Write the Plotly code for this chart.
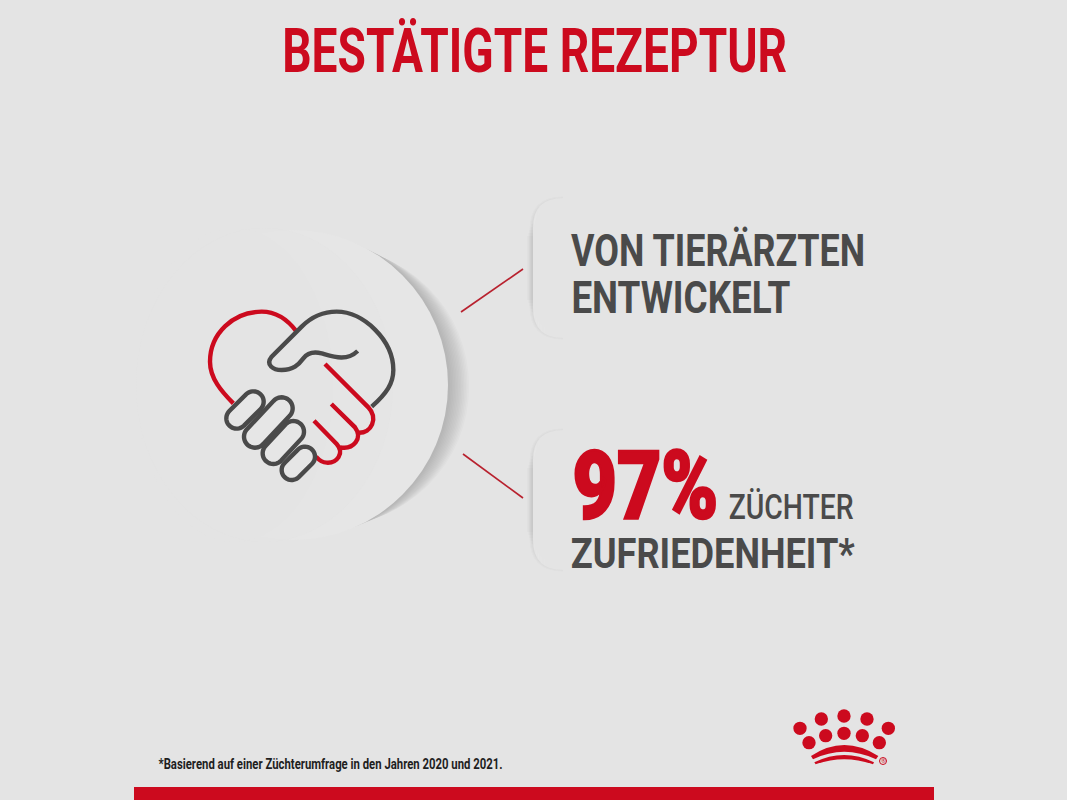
import re
import json
import numpy as np
import plotly.graph_objects as go

TITLE = ["BESTÄTIGTE REZEPTUR"]
CARD_ONE = ["VON TIERÄRZTEN", "ENTWICKELT"]
PERCENT = ["97%"]
CARD_TWO = ["ZÜCHTER", "ZUFRIEDENHEIT*"]
FOOTNOTE = ["*Basierend auf einer Züchterumfrage in den Jahren 2020 und 2021."]

RED = "#CC0A1E"
GREY = "#4A4A4A"
BG = "#E4E4E4"
DISC = "#E6E6E6"
FONT = "Roboto, sans-serif"

# icon outlines, in zoomed icon coordinates
HEART = "M320,125 C290,85 255,65 215,65 C130,65 60,130 60,215 C60,265 95,305 130,340"
HAND = ("M545,350 C590,310 610,280 610,240 C610,150 520,65 440,65 C390,65 360,85 335,110 "
        "L245,200 C225,225 250,240 275,240 C310,240 325,225 340,205 C355,185 375,185 395,190 "
        "C430,200 470,215 503,183")
RED_FINGERS = [
    "M405,222 L535,352 C565,385 545,430 505,428",
    "M424,342 L495,412 C520,445 490,480 450,472",
    "M372,392 L440,462 C465,490 440,520 410,518 C395,518 385,508 378,500",
]
GREY_FINGERS = [
    ((140, 385), (190, 335), 31),
    ((195, 440), (275, 355), 33),
    ((250, 490), (310, 425), 32),
    ((305, 540), (345, 500), 30),
]
CROWN_DOTS_X = [60, 124, 192, 261, 325, 87, 137, 192, 247, 298]
CROWN_DOTS_Y = [85, 57, 48, 57, 85, 128, 107, 100, 107, 128]
CROWN_R = 20


def icon_xy(x, y):
    return 190 + x / 3, 290 + y / 3


def logo_xy(x, y):
    return 780 + x / 3, 700 + y / 3


def map_path(path, fn):
    def repl(m):
        x, y = fn(float(m.group(1)), float(m.group(2)))
        return f"{x:.2f},{y:.2f}"
    return re.sub(r"(-?[\d.]+),(-?[\d.]+)", repl, path)


def capsule(p1, p2, r, fn):
    p1, p2 = np.array(p1, float), np.array(p2, float)
    a = np.arctan2(*(p2 - p1)[::-1])
    t1 = np.linspace(a + np.pi / 2, a + 3 * np.pi / 2, 24)
    t2 = np.linspace(a - np.pi / 2, a + np.pi / 2, 24)
    pts = [p1 + r * np.array([np.cos(t), np.sin(t)]) for t in t1]
    pts += [p2 + r * np.array([np.cos(t), np.sin(t)]) for t in t2]
    mapped = [fn(*p) for p in pts]
    return "M" + " L".join(f"{x:.2f},{y:.2f}" for x, y in mapped) + " Z"


def card(x0, x1, y0, y1, r):
    return (f"M{x1},{y0} L{x0+r},{y0} Q{x0},{y0} {x0},{y0+r} L{x0},{y1-r} "
            f"Q{x0},{y1} {x0+r},{y1} L{x1},{y1} Z")


def card_arc(x0, y0, y1, r):
    return f"M{x0+r},{y0} Q{x0},{y0} {x0},{y0+r} L{x0},{y1-r} Q{x0},{y1} {x0+r},{y1}"


shapes = []
# soft shadow of the large disc, to its right
CX, CY, CR = 293, 385, 155
for i in range(13):
    dx = 4 + i * 2.7
    r = CR - dx * 0.42
    cx, cy = CX + dx, CY + dx * 0.04
    shapes.append(dict(type="circle", x0=cx - r, x1=cx + r, y0=cy - r, y1=cy + r,
                       fillcolor="rgba(60,60,60,0.019)", line_width=0, layer="below"))
shapes.append(dict(type="circle", x0=CX - CR, x1=CX + CR, y0=CY - CR, y1=CY + CR,
                   fillcolor=DISC, line_width=0, layer="below"))
# the left of the disc melts into the background
shapes.append(dict(type="circle", x0=CX - CR - 2, x1=CX + 40, y0=CY - CR - 2, y1=CY + CR + 2,
                   fillcolor=BG, line_width=0, layer="below"))
shapes.append(dict(type="circle", x0=CX - CR - 2, x1=CX + 100, y0=CY - CR - 2, y1=CY + CR + 2,
                   fillcolor="rgba(228,228,228,0.5)", line_width=0, layer="below"))

# cards: soft shadow hugging the left edge, lighter body fading right
for (y0, y1) in [(198, 338), (430, 570)]:
    R = 30
    for k in range(3):
        shapes.append(dict(type="path", path=card_arc(533, y0 + 2, y1 - 2, R),
                           line=dict(color="rgba(70,70,70,0.018)", width=3 + k * 2), layer="below"))
    for k in range(5):
        shapes.append(dict(type="path", path=f"M533,{y0 + R - 4 + k * 3} L533,{y1 - R + 4 - k * 3}",
                           line=dict(color="rgba(70,70,70,0.024)", width=3 + k * 2.2), layer="below"))
    shapes.append(dict(type="path", path=card(533, 600, y0, y1, R), fillcolor=BG, line_width=0, layer="below"))
    for k in range(12):
        shapes.append(dict(type="path", path=card(533, 548 + k * 11, y0 + k * 0.5, y1 - k * 0.5, R),
                           fillcolor="rgba(255,255,255,0.018)", line_width=0, layer="below"))

# connector lines
shapes.append(dict(type="line", x0=461, y0=312, x1=523, y1=269, line=dict(color="#B8212E", width=1.6)))
shapes.append(dict(type="line", x0=463, y0=454, x1=523, y1=498, line=dict(color="#B8212E", width=1.6)))

# handshake icon
W = 4.4
shapes.append(dict(type="path", path=map_path(HEART, icon_xy), line=dict(color=RED, width=W)))
for p in RED_FINGERS:
    shapes.append(dict(type="path", path=map_path(p, icon_xy), line=dict(color=RED, width=W)))
shapes.append(dict(type="path", path=map_path(HAND, icon_xy), line=dict(color=GREY, width=W)))
for a, b, r in GREY_FINGERS:
    shapes.append(dict(type="path", path=capsule(a, b, r, icon_xy), fillcolor=DISC,
                       line=dict(color=GREY, width=W)))

# logo
for x, y in zip(CROWN_DOTS_X, CROWN_DOTS_Y):
    cx, cy = logo_xy(x, y)
    r = CROWN_R / 3
    shapes.append(dict(type="circle", x0=cx - r, x1=cx + r, y0=cy - r, y1=cy + r, fillcolor=RED, line_width=0))
shapes.append(dict(type="path", path=map_path("M93,168 Q192,102 295,168 L288,178 Q192,133 99,178 Z", logo_xy),
                   fillcolor=RED, line_width=0))
shapes.append(dict(type="path", path=map_path("M103,187 Q192,143 282,187 L279,193 Q192,162 107,193 Z", logo_xy),
                   fillcolor=RED, line_width=0))
shapes.append(dict(type="circle", x0=879.5, x1=886.5, y0=757.5, y1=764.5, fillcolor="rgba(0,0,0,0)",
                   line=dict(color=RED, width=1)))
# bottom band
shapes.append(dict(type="rect", x0=134, x1=934, y0=787, y1=800, fillcolor=RED, line_width=0))


def label(text, cx, y, size, color=GREY, weight=700):
    return dict(text=text, x=cx, y=y, xref="x", yref="y", xanchor="center", yanchor="middle", showarrow=False,
                font=dict(family=FONT, size=size, color=color, weight=weight))


annotations = [
    label(TITLE[0], 534.5, 50, 62, RED),
    label(CARD_ONE[0], 718, 251, 44),
    label(CARD_ONE[1], 680.5, 298, 44),
    label(PERCENT[0], 645, 486, 94, RED, weight=900),
    label(CARD_TWO[0], 790.5, 507, 35, weight=500),
    label(CARD_TWO[1], 713, 553, 43),
    label(FOOTNOTE[0], 330, 764, 14, "#1E1E1E", weight=700),
    dict(text="®", x=883, y=761, xref="x", yref="y", showarrow=False, font=dict(size=6, color=RED)),
]

# rendered widths of the condensed lettering in the reference
widths = {
    TITLE[0]: 505, CARD_ONE[0]: 294, CARD_ONE[1]: 219, PERCENT[0]: 146,
    CARD_TWO[0]: 125, CARD_TWO[1]: 284, FOOTNOTE[0]: 344,
}

post = """
document.body.style.margin = '0';
document.documentElement.style.overflow = 'hidden';
var widths = %s;
document.querySelectorAll('.annotation-text').forEach(function (t) {
  var w = widths[t.textContent];
  if (w) { t.setAttribute('textLength', w); t.setAttribute('lengthAdjust', 'spacingAndGlyphs'); }
  if (t.textContent === '97%%') { t.style.stroke = '%s'; t.style.strokeWidth = '2.5px'; }
});
""" % (json.dumps(widths, ensure_ascii=False), RED)

fig = go.Figure()
fig.update_layout(
    width=1067, height=800, margin=dict(l=0, r=0, t=0, b=0),
    paper_bgcolor=BG, plot_bgcolor=BG, showlegend=False,
    xaxis=dict(range=[0, 1067], visible=False, fixedrange=True),
    yaxis=dict(range=[800, 0], visible=False, fixedrange=True),
    shapes=shapes, annotations=annotations,
)
fig.write_html("out.html", config=dict(displayModeBar=False), post_script=post)
